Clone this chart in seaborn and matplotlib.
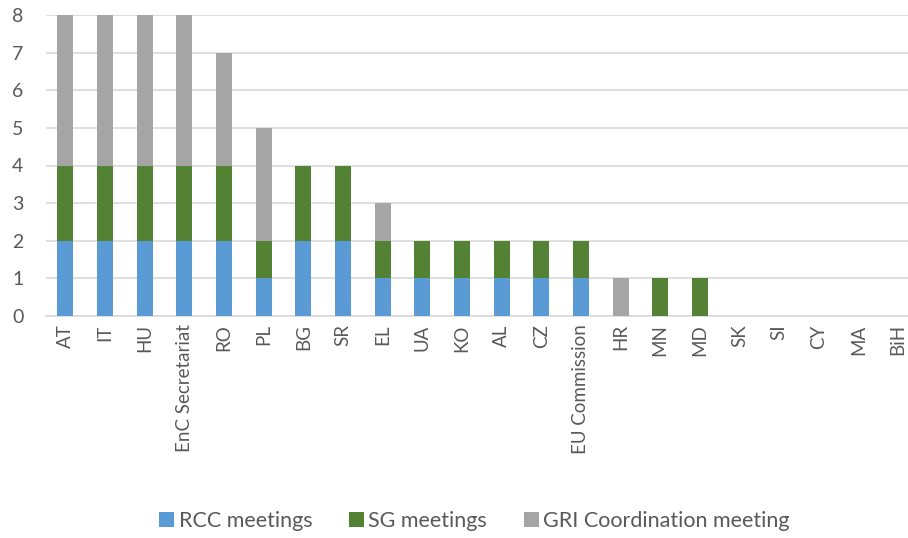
import matplotlib
matplotlib.use("Agg")
import matplotlib.pyplot as plt
import seaborn as sns
import numpy as np
import pandas as pd

categories = ["AT", "IT", "HU", "EnC Secretariat", "RO", "PL", "BG", "SR", "EL", "UA",
              "KO", "AL", "CZ", "EU Commission", "HR", "MN", "MD", "SK", "SI", "CY", "MA", "BiH"]
rcc = [2, 2, 2, 2, 2, 1, 2, 2, 1, 1, 1, 1, 1, 1, 0, 0, 0, 0, 0, 0, 0, 0]
sg = [2, 2, 2, 2, 2, 1, 2, 2, 1, 1, 1, 1, 1, 1, 0, 1, 1, 0, 0, 0, 0, 0]
gri = [4, 4, 4, 4, 3, 3, 0, 0, 1, 0, 0, 0, 0, 0, 1, 0, 0, 0, 0, 0, 0, 0]
series_names = ["RCC meetings", "SG meetings", "GRI Coordination meeting"]
colors = ["#5B9BD5", "#548235", "#A5A5A5"]

sns.set_style("white")
plt.rcParams['font.family'] = ['Lato', 'DejaVu Sans']

fig = plt.figure(figsize=(9.08, 5.38), dpi=100)
left_px, right_px = 45.5, 918.0
ax = fig.add_axes([left_px/908, 1-316/538, (right_px-left_px)/908, (316-15)/538])

b1 = np.array(rcc)
b2 = b1 + np.array(sg)

for vals, bottom, name, c in [(rcc, None, series_names[0], colors[0]),
                              (sg, b1, series_names[1], colors[1]),
                              (gri, b2, series_names[2], colors[2])]:
    sns.barplot(x=categories, y=vals, bottom=bottom, color=c, width=0.403,
                saturation=1, linewidth=0, label=name, ax=ax, order=categories, zorder=3)

ax.set_ylim(0, 8)
ax.set_xlim(-0.5, len(categories) - 0.5)
ax.set_yticks(range(0, 9))
ax.yaxis.grid(True, color="#D9D9D9", linewidth=1.2, zorder=0)
ax.set_axisbelow(True)
for s in ["top", "right", "left"]:
    ax.spines[s].set_visible(False)
ax.spines["bottom"].set_color("#D9D9D9")
ax.spines["bottom"].set_linewidth(1.2)
ax.tick_params(axis="y", length=0, labelsize=14, labelcolor="#595959", pad=16)
ax.tick_params(axis="x", length=0, labelsize=13.5, labelcolor="#595959", rotation=90, pad=6)
ax.set_xlabel("")

handles, labels = ax.get_legend_handles_labels()
if ax.get_legend() is not None:
    ax.get_legend().remove()
fig.legend(handles, labels, loc="center", bbox_to_anchor=(474.5/908, 1-521/538), ncol=3,
           frameon=False, fontsize=15.5, handlelength=0.7, handleheight=0.7,
           handletextpad=0.2, columnspacing=1.7, labelcolor="#595959")
fig.savefig("out.png", dpi=100)
